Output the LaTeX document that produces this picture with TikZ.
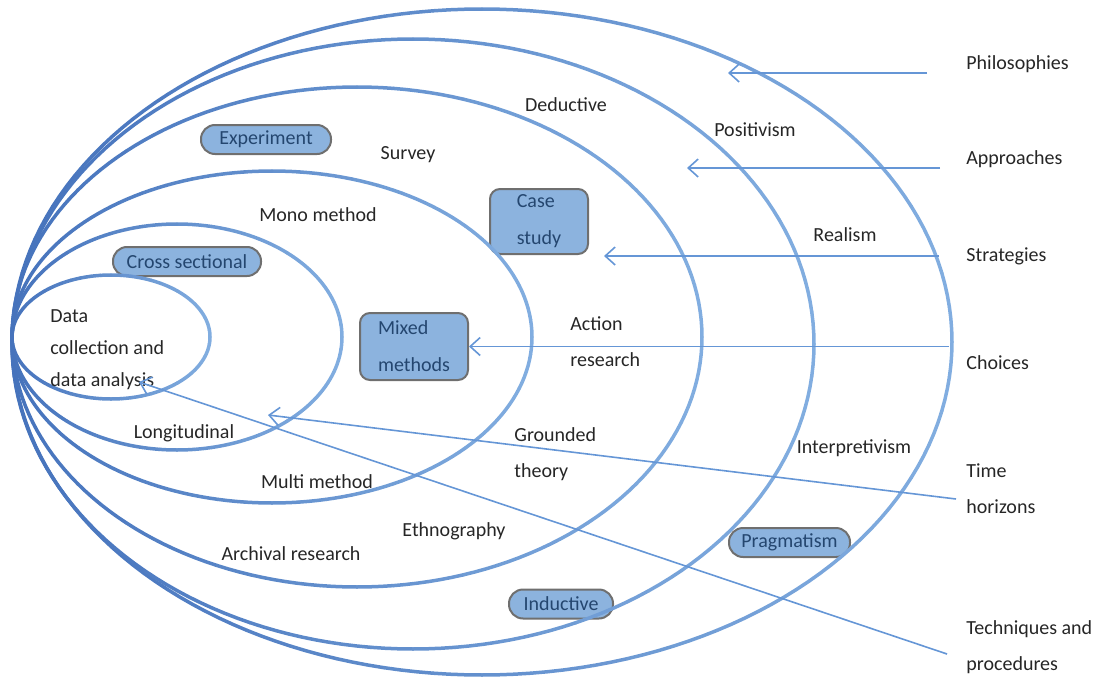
\documentclass[tikz,border=0pt]{standalone}
\usepackage{fontspec}
\setmainfont{Carlito}
\usetikzlibrary{arrows.meta}

\definecolor{ringdark}{HTML}{4673BC}
\definecolor{ringlight}{HTML}{82AEE0}
\definecolor{arrowblue}{HTML}{6596D6}
\definecolor{boxfill}{HTML}{8CB3DE}
\definecolor{boxtext}{HTML}{24466F}
\definecolor{boxline}{HTML}{6F6F6F}
\definecolor{labeltext}{HTML}{262626}

\tikzset{
  ringline/.style={line width=1.75pt,line cap=round},
  pointer/.style={arrowblue,line width=0.8pt,-{Straight Barb[length=5pt,width=9pt]}},
  lbl/.style={text=labeltext,font=\fontsize{10}{18}\selectfont,align=left,inner sep=0pt},
  pill/.style={draw=boxline,line width=1pt,fill=boxfill,text=boxtext,rounded corners=7pt,
    font=\fontsize{10}{12}\selectfont,inner sep=0pt,minimum height=14.5pt},
  tallbox/.style={draw=boxline,line width=1pt,fill=boxfill,text=boxtext,rounded corners=5pt,
    font=\fontsize{10}{18.5}\selectfont,align=left,inner sep=0pt}
}

% one ring of the onion, dark on the left and light on the right
\newcommand{\onionring}[4]{%
  \foreach \a in {0,6,...,354}{%
    \pgfmathtruncatemacro{\p}{50+50*cos(\a+3)}%
    \pgfmathsetmacro{\b}{\a+6}%
    \draw[ringline,ringlight!\p!ringdark] plot[domain=\a:\b,samples=4] ({#1+#3*cos(\x)},{#2+#4*sin(\x)});
  }}

\begin{document}
\begin{tikzpicture}[x=0.5pt,y=0.5pt]
\useasboundingbox (0,0) rectangle (1099,677);

\node[pill,minimum width=65pt] (experiment) at (266,537.5) {Experiment};
\node[pill,minimum width=74pt] (cross) at (187,415.5) {Cross sectional};
\node[pill,minimum width=52pt] (inductive) at (561,73) {Inductive};
\node[pill,minimum width=60.5pt] (pragmatism) at (789.5,134.5) {Pragmatism};
\node[tallbox,minimum width=49pt,minimum height=32.5pt] (casestudy) at (539,455.5) {Case\\study};
\node[tallbox,minimum width=54pt,minimum height=33.5pt] (mixed) at (414,330.5) {Mixed\\methods};

\onionring{482}{335}{470}{333}
\onionring{413}{333}{401}{305}
\onionring{357}{340}{345}{250}
\onionring{272}{340}{260}{166}
\onionring{177}{340}{165}{113}
\onionring{111}{340}{99}{62}

\node[lbl,anchor=west] (philosophies) at (966,613) {Philosophies};
\node[lbl,anchor=west] (approaches) at (966,518) {Approaches};
\node[lbl,anchor=west] (strategies) at (966,421) {Strategies};
\node[lbl,anchor=west] (choices) at (966,314) {Choices};
\node[lbl,anchor=west] (horizons) at (966,188) {Time\\horizons};
\node[lbl,anchor=west] (techniques) at (966,30) {Techniques and\\procedures};

\node[lbl] (deductive) at (566,572) {Deductive};
\node[lbl] (positivism) at (755,547) {Positivism};
\node[lbl] (realism) at (845,442) {Realism};
\node[lbl] (interpretivism) at (854,229) {Interpretivism};
\node[lbl] (survey) at (408,522) {Survey};
\node[lbl] (mono) at (318,462) {Mono method};
\node[lbl,anchor=west,font=\fontsize{10}{16}\selectfont] (data) at (50,327) {Data\\collection and\\data analysis};
\node[lbl] (longitudinal) at (184,244) {Longitudinal};
\node[lbl] (multi) at (317,195) {Multi method};
\node[lbl] (archival) at (291,123) {Archival research};
\node[lbl] (ethnography) at (454,146) {Ethnography};
\node[lbl,anchor=west] (grounded) at (514,223) {Grounded\\theory};
\node[lbl,anchor=west] (action) at (570,335) {Action\\research};

\coordinate (philtail) at (927,604);
\coordinate (philhead) at (728,604);
\coordinate (apprtail) at (940,509);
\coordinate (apprhead) at (687,509);
\coordinate (strattail) at (939,421);
\coordinate (strathead) at (604,421);
\coordinate (choicetail) at (949,330.5);
\coordinate (timetail) at (956,178);
\coordinate (timehead) at (268,262);
\coordinate (techtail) at (947,23);
\coordinate (techhead) at (139,295);

\draw[pointer] (philtail) -- (philhead);
\draw[pointer] (apprtail) -- (apprhead);
\draw[pointer] (strattail) -- (strathead);
\draw[pointer] (choicetail) -- (mixed.east);
\draw[pointer] (timetail) -- (timehead);
\draw[pointer] (techtail) -- (techhead);
\end{tikzpicture}
\end{document}
